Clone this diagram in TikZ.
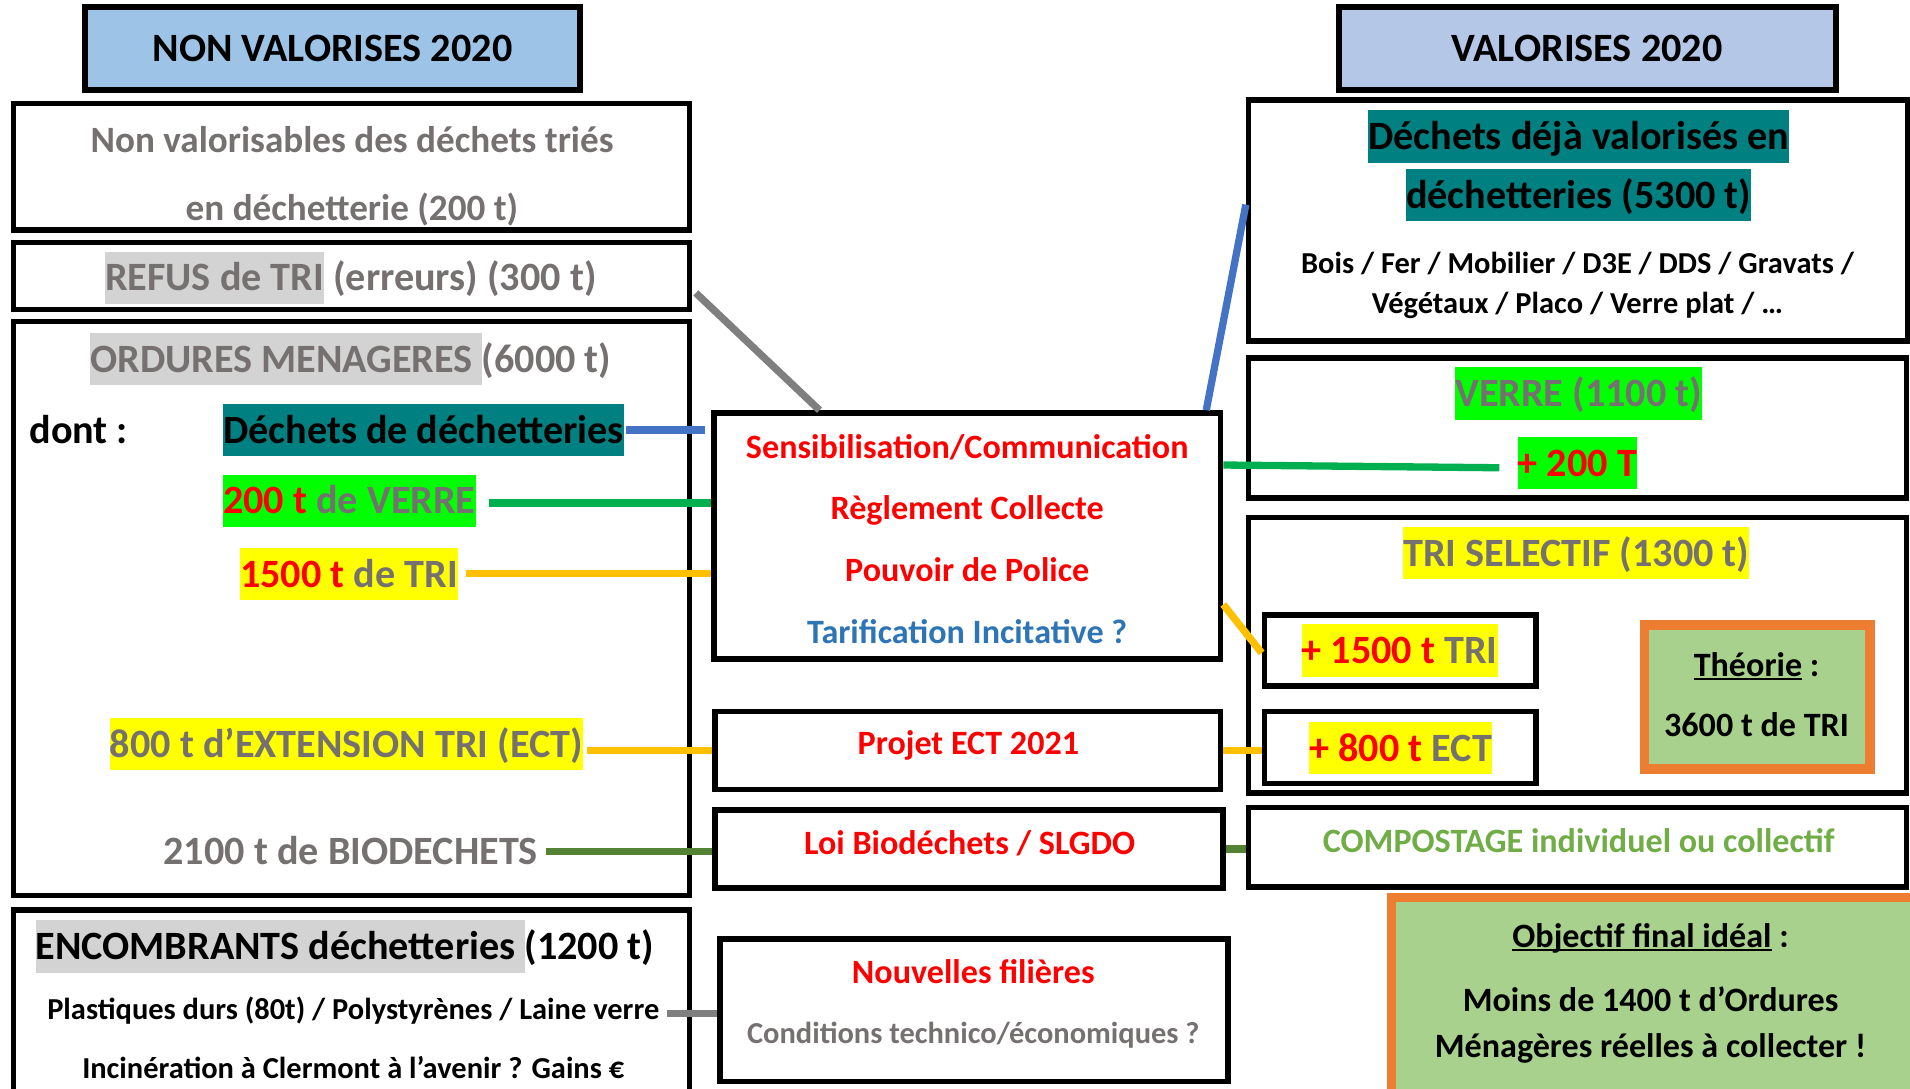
\documentclass[tikz,border=0pt]{standalone}
\usepackage{fontspec}
\setmainfont{Carlito}
\usetikzlibrary{calc,fit}
\definecolor{txtgray}{HTML}{767171}
\definecolor{hdrblue}{HTML}{9DC3E6}
\definecolor{hdrbluetwo}{HTML}{B4C7E7}
\definecolor{hlgray}{HTML}{D3D3D3}
\definecolor{hlteal}{HTML}{008080}
\definecolor{hlgreen}{HTML}{00FF00}
\definecolor{hlyellow}{HTML}{FFFF00}
\definecolor{lnblue}{HTML}{4472C4}
\definecolor{lngreen}{HTML}{00B050}
\definecolor{lnorange}{HTML}{FFC000}
\definecolor{lndkgreen}{HTML}{548235}
\definecolor{lngray}{HTML}{7F7F7F}
\definecolor{okgreen}{HTML}{A9D18E}
\definecolor{okorange}{HTML}{ED7D31}
\definecolor{txtblue}{HTML}{2E75B6}
\definecolor{compgreen}{HTML}{70AD47}
\newcommand\fs[1]{\fontsize{#1}{#1}\selectfont}
\newcommand\st{\rule[-0.32em]{0pt}{1.3em}}
\newcommand\hl[2]{{\setlength{\fboxsep}{0pt}\colorbox{#1}{\st#2}}}
\newcommand\rd[1]{\textcolor{red}{#1}}
\newsavebox\ulbox
\newcommand\ul[1]{\sbox\ulbox{#1}\rlap{\rule[-0.1em]{\wd\ulbox}{0.06em}}\usebox\ulbox}
\tikzset{
  box/.style={draw=black, line width=4.5pt, inner sep=0pt, fill=white},
  hdr/.style={draw=black, line width=5pt, inner sep=0pt},
  okbox/.style={draw=okorange, line width=8pt, fill=okgreen, inner sep=0pt},
  tx/.style={inner sep=0pt, font={\fs{33}\bfseries}, execute at begin node={\st}},
  txm/.style={tx, font={\fs{28}\bfseries}},
  txs/.style={tx, font={\fs{25}\bfseries}},
  conn/.style={line width=6pt}
}
\begin{document}
\begin{tikzpicture}[x=1pt, y=-1pt]
\useasboundingbox (0,0) rectangle (1568,894);
\fill[white] (0,0) rectangle (1568,894);

% headers
\node[hdr, fill=hdrblue, fit={(70,6) (476,74)}] (hL) {};
\node[tx] (hLt) at (hL.center) {NON VALORISES 2020};
\node[hdr, fill=hdrbluetwo, fit={(1099,6) (1507,74)}] (hR) {};
\node[tx] (hRt) at (hR.center) {VALORISES 2020};

% left column
\node[box, fit={(11,85) (566,189)}] (A) {};
\node[tx, font={\fs{30.5}\bfseries}, text=txtgray] (A1) at (289,115) {Non valorisables des déchets triés};
\node[tx, font={\fs{30.5}\bfseries}, text=txtgray] (A2) at (289,171) {en déchetterie (200 t)};
\node[box, fit={(11,199) (566,254)}] (B) {};
\node[tx, text=txtgray] (B1) at (288,228) {\hl{hlgray}{REFUS de TRI} (erreurs) (300 t)};
\node[box, fit={(11,264) (566,735)}] (C) {};
\node[tx, text=txtgray] (C1) at (288,295) {\hl{hlgray}{ORDURES MENAGERES }(6000 t)};
\node[tx, anchor=west] (dont) at (24,353) {dont :};
\node[tx, anchor=west] (dech) at (183,353) {\hl{hlteal}{Déchets de déchetteries}};
\node[tx, anchor=west, text=txtgray] (v200) at (183,411) {\hl{hlgreen}{\rd{200 t} de VERRE}};
\node[tx, anchor=west, text=txtgray] (t1500) at (197,471) {\hl{hlyellow}{\rd{1500 t} de TRI}};
\node[tx, anchor=west, text=txtgray] (e800) at (90,611) {\hl{hlyellow}{800 t d’EXTENSION TRI (ECT)}};
\node[tx, anchor=west, text=txtgray] (bio) at (134,699) {2100 t de BIODECHETS};
\node[box, fit={(11,747) (566,920)}] (D) {};
\node[tx, anchor=west] (D1) at (29,777) {\hl{hlgray}{ENCOMBRANTS déchetteries }(1200 t)};
\node[txs] (D2) at (290,829) {Plastiques durs (80t) / Polystyrènes / Laine verre};
\node[txs] (D3) at (290,877) {Incinération à Clermont à l’avenir ? Gains €};

% middle column
\node[box, fit={(586,339) (1002,541)}] (M1) {};
\node[txm, text=red] (M1a) at (794,367) {Sensibilisation/Communication};
\node[txm, text=red] (M1b) at (794,417) {Règlement Collecte};
\node[txm, text=red] (M1c) at (794,468) {Pouvoir de Police};
\node[txm, text=txtblue] (M1d) at (794,519) {Tarification Incitative ?};
\node[box, fit={(587,584) (1002,648)}] (M2) {};
\node[txm, text=red] (M2a) at (795,610) {Projet ECT 2021};
\node[box, fit={(587,665) (1004,729)}] (M3) {};
\node[txm, text=red] (M3a) at (796,692) {Loi Biodéchets / SLGDO};
\node[box, fit={(591,771) (1008,888)}] (M4) {};
\node[txm, text=red] (M4a) at (799,798) {Nouvelles filières};
\node[txs, text=txtgray] (M4b) at (799,848) {Conditions technico/économiques ?};

% right column
\node[box, fit={(1025,82) (1566,280)}] (R1) {};
\node[tx] (R1a) at (1296,112) {\hl{hlteal}{Déchets déjà valorisés en}};
\node[tx] (R1b) at (1296,160) {\hl{hlteal}{déchetteries (5300 t)}};
\node[txs] (R1c) at (1295,216) {Bois / Fer / Mobilier / D3E / DDS / Gravats /};
\node[txs] (R1d) at (1295,249) {Végétaux / Placo / Verre plat / …};
\node[box, fit={(1025,294) (1565,409)}] (R2) {};
\node[tx, text=txtgray] (R2a) at (1296,323) {\hl{hlgreen}{VERRE (1100 t)}};
\node[tx, text=red] (R2b) at (1295,380) {\hl{hlgreen}{+ 200 T}};
\node[box, fit={(1025,425) (1565,651)}] (R3) {};
\node[tx, text=txtgray] (R3a) at (1294,454) {\hl{hlyellow}{TRI SELECTIF (1300 t)}};
\node[box, fit={(1038,505) (1261,563)}] (b1500) {};
\node[tx, text=txtgray] (b1500t) at (1149,534) {\hl{hlyellow}{\rd{+ 1500 t} TRI}};
\node[box, fit={(1038,584) (1261,643)}] (b800) {};
\node[tx, text=txtgray] (b800t) at (1150,614) {\hl{hlyellow}{\rd{+ 800 t} ECT}};
\node[okbox, fit={(1350,513) (1535,631)}] (theo) {};
\node[txm] (theo1) at (1442,546) {\ul{Théorie} :};
\node[txm] (theo2) at (1442,595) {3600 t de TRI};
\node[box, fit={(1025,663) (1565,728)}] (R4) {};
\node[txm, text=compgreen] (R4a) at (1296,691) {COMPOSTAGE individuel ou collectif};
\node[okbox, line width=7.5pt, fit={(1142,737) (1572,910)}] (obj) {};
\node[txm] (obj1) at (1355,769) {\ul{Objectif final idéal} :};
\node[txm] (obj2) at (1355,821) {Moins de 1400 t d’Ordures};
\node[txm] (obj3) at (1355,859) {Ménagères réelles à collecter !};

% connectors
\draw[conn, lngray] ($(B.east)+(3,14)$) -- ($(M1.north west)+(89,0)$);
\draw[conn, lnblue] ($(dech.east)+(2,0)$) -- ($(M1.west |- dech.east)+(-5,0)$);
\draw[conn, lnblue] ($(M1.north east)+(-14,0)$) -- ($(R1.west)+(0,-13)$);
\draw[conn, lngreen] ($(v200.east)+(11,2)$) -- ($(M1.west |- v200.east)+(0,2)$);
\draw[conn, lngreen] ($(M1.north east)+(0,45)$) -- ($(R2b.west)+(-15,4)$);
\draw[conn, lnorange] ($(t1500.east)+(6,0)$) -- (M1.west |- t1500.east);
\draw[conn, lnorange] ($(M1.south east)+(0,-47)$) -- ($(b1500.west)+(0,2)$);
\draw[conn, lnorange] ($(e800.east)+(3,5)$) -- ($(M2.west |- e800.east)+(0,5)$);
\draw[conn, lnorange] (M2.east) -- (b800.west |- M2.east);
\draw[conn, lndkgreen] ($(bio.east)+(7,0)$) -- (M3.west |- bio.east);
\draw[conn, lndkgreen] (M3.east) -- (R4.west |- M3.east);
\draw[conn, lngray] ($(D2.east)+(6,3)$) -- ($(M4.west |- D2.east)+(0,3)$);
\end{tikzpicture}
\end{document}
